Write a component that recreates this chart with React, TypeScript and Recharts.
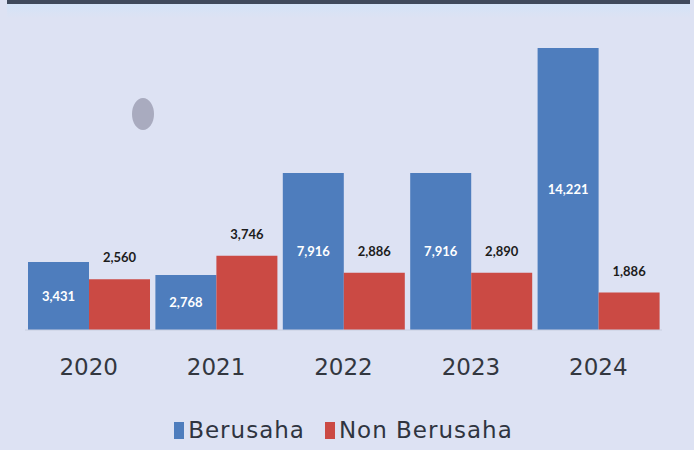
import React from "react";
import { Bar, BarChart, LabelList, Legend, XAxis, YAxis } from "recharts";

const years = ["2020", "2021", "2022", "2023", "2024"];
const berusaha = [3431, 2768, 7916, 7916, 14221];
const nonBerusaha = [2560, 3746, 2886, 2890, 1886];

const BLUE = "#4e7dbd";
const RED = "#cb4a44";
const BG = "#dde2f3";
const FONT = "Lato, 'Noto Sans', sans-serif";
const WIDE_FONT = "'DejaVu Sans', sans-serif";

const data = years.map((year, i) => ({
    year,
    berusaha: berusaha[i],
    nonBerusaha: nonBerusaha[i],
}));

const fmt = (v: number) => v.toLocaleString("en-US");

const LegendBox = () => (
    <div
        style={{
            height: 70,
            display: "flex",
            justifyContent: "center",
            alignItems: "center",
            paddingTop: 30,
            boxSizing: "border-box",
            gap: 20,
            fontFamily: WIDE_FONT,
            fontSize: 23,
            letterSpacing: 1,
            color: "#2f3440",
        }}
    >
        {[
            { name: "Berusaha", color: BLUE },
            { name: "Non Berusaha", color: RED },
        ].map((it) => (
            <span key={it.name} style={{ display: "flex", alignItems: "center" }}>
                <span
                    style={{
                        width: 10,
                        height: 17,
                        background: it.color,
                        marginRight: 4,
                        display: "inline-block",
                    }}
                />
                {it.name}
            </span>
        ))}
    </div>
);

export default function App() {
    return (
        <div
            style={{
                position: "absolute",
                left: 0,
                top: 0,
                width: 694,
                height: 450,
                background: BG,
                overflow: "hidden",
            }}
        >
            {/* dark strip along the top edge */}
            <div
                style={{
                    position: "absolute",
                    left: 7,
                    right: 4,
                    top: 0,
                    height: 4,
                    background: "#3f4a5c",
                }}
            />
            <div
                style={{
                    position: "absolute",
                    left: 7,
                    right: 4,
                    top: 4,
                    height: 14,
                    background: "linear-gradient(#d3e3f7, #dde2f3)",
                }}
            />
            {/* grey blob */}
            <div
                style={{
                    position: "absolute",
                    left: 132,
                    top: 98,
                    width: 22,
                    height: 32,
                    borderRadius: "50%",
                    background: "#a9abbf",
                }}
            />
            <BarChart
                width={694}
                height={450}
                data={data}
                margin={{ top: 48, right: 32, left: 25, bottom: 0 }}
                barCategoryGap={3}
                barGap={0}
                style={{ position: "absolute", left: 0, top: 0 }}
            >
                <XAxis
                    dataKey="year"
                    axisLine={{ stroke: "#c8cee0" }}
                    tickLine={false}
                    tickMargin={23}
                    height={50}
                    tick={{ fill: "#33373f", fontSize: 23, fontFamily: WIDE_FONT }}
                />
                <YAxis hide domain={[0, 14221]} />
                <Legend verticalAlign="bottom" height={70} content={<LegendBox />} />
                <Bar dataKey="berusaha" name="Berusaha" fill={BLUE} isAnimationActive={false}>
                    <LabelList
                        dataKey="berusaha"
                        position="center"
                        formatter={(v: number) => fmt(v)}
                        style={{ fill: "#ffffff", fontSize: 13, fontWeight: 700, fontFamily: FONT }}
                    />
                </Bar>
                <Bar dataKey="nonBerusaha" name="Non Berusaha" fill={RED} isAnimationActive={false}>
                    <LabelList
                        dataKey="nonBerusaha"
                        position="top"
                        offset={17}
                        formatter={(v: number) => fmt(v)}
                        style={{ fill: "#1c1c1c", fontSize: 13, fontWeight: 700, fontFamily: FONT }}
                    />
                </Bar>
            </BarChart>
        </div>
    );
}
